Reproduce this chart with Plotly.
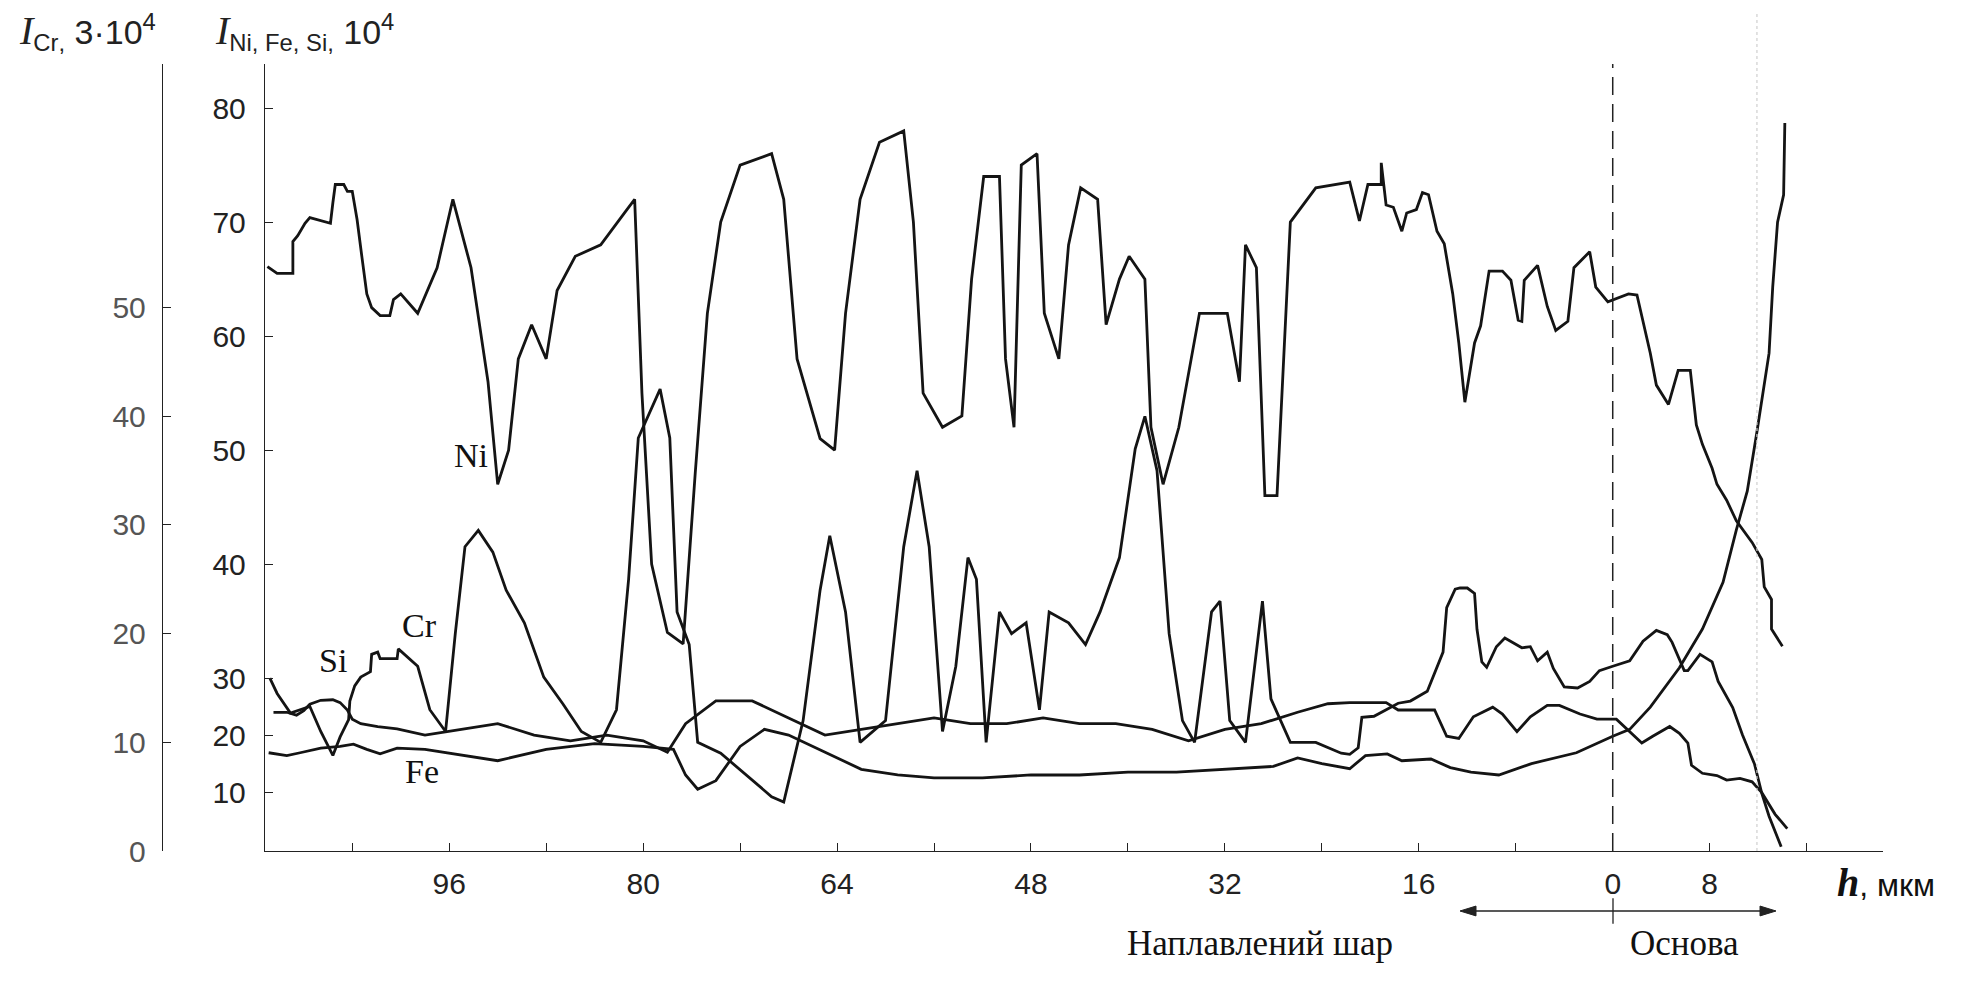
import plotly.graph_objects as go

W, H = 1983, 984

# Depth h, µm (positive into the deposited layer, negative into the base)
# and intensities. Ni/Fe/Si share one axis (10^4), Cr its own (3·10^4).
ni_h = [111.0, 110.2, 108.9, 108.9, 108.5, 107.9, 107.5, 105.8, 105.6, 105.4, 104.7, 104.4, 104.0,
        103.6, 103.2, 102.8, 102.4, 101.7, 100.9, 100.6, 100.0,
        98.6, 97.0, 95.7, 94.2, 92.8, 92.0, 91.1, 90.3, 89.2, 88.0, 87.1, 85.6, 83.5, 81.4, 80.7,
        80.1, 79.3, 78.0, 76.7, 75.7, 74.7, 73.6, 72.0, 69.4, 68.4, 67.3, 65.4, 64.2, 63.3, 62.1,
        60.5, 58.5, 57.7, 56.9, 55.3, 53.7, 52.9, 51.9, 50.6, 50.1, 49.4, 48.8, 47.5, 46.9, 45.7,
        44.9, 43.9, 42.5, 41.8, 40.7, 39.9, 38.6, 38.1, 37.1, 35.8, 34.1, 31.8, 30.8, 30.3, 29.4,
        28.7, 27.7, 26.6, 24.5,
        21.7, 20.9, 20.2, 19.1, 19.1, 18.7, 18.1, 17.4, 17.0, 16.2, 15.7, 15.2, 14.5, 13.9, 13.2,
        12.7, 12.2, 11.4, 10.9, 10.2, 9.1, 8.4, 7.8, 7.5, 7.3, 6.2, 5.4, 4.7, 3.7, 3.2, 1.9, 1.4,
        0.4, -1.3, -2.0, -3.1, -3.6, -4.6, -5.4, -6.4, -6.9, -7.4, -8.2, -8.6, -9.4, -10.2, -11.5,
        -12.3, -12.5, -13.1, -13.1, -14.0]
ni_i = [66.1, 65.5, 65.5, 68.3, 68.8, 69.9, 70.4, 69.9, 71.7, 73.3, 73.3, 72.7, 72.7,
        70.2, 66.9, 63.7, 62.5, 61.8, 61.8, 63.2, 63.7,
        62, 66, 72, 66, 56, 47, 50, 58, 61, 58, 64, 67, 68, 71, 72,
        55, 40, 34, 33, 48, 62, 70, 75, 76, 72, 58, 51, 50, 62, 72,
        77, 78, 70, 55, 52, 53, 65, 74, 74, 58, 52, 75, 76, 62, 58,
        68, 73, 72, 61, 65, 67, 65, 52, 47, 52, 62, 62, 56, 68, 66,
        46, 46, 70, 73,
        73.5, 70.1, 73.3, 73.3, 75.2, 71.5, 71.3, 69.2, 70.8, 71.1, 72.6, 72.4, 69.2, 68.1, 63.7,
        59.4, 54.2, 59.4, 60.9, 65.7, 65.7, 64.9, 61.4, 61.3, 64.9, 66.2, 62.6, 60.5, 61.3, 66.0, 67.4, 64.3,
        63.0, 63.7, 63.6, 58.5, 55.7, 54.0, 57.0, 57.0, 52.2, 50.5, 48.4, 47.0, 45.6, 43.8, 41.9,
        40.4, 38.0, 36.9, 34.3, 32.8]

fe_h = [110.9, 109.4, 108.3, 106.6, 105.0, 103.9, 102.8, 101.7, 100.3,
        98, 92, 88, 84, 80, 77.5, 76.5, 75.5, 74, 72, 70, 68, 65, 62, 59, 56, 52, 48, 44, 40,
        36, 32, 28, 26, 24,
        21.7, 20.4, 18.6, 17.4, 15.0, 13.4, 11.7, 9.4, 6.7, 3.0, 0.0, -1.4, -3.1, -5.5, -7.4,
        -9.1, -10.2, -11.1, -11.9, -12.9, -13.2, -13.6, -14.1, -14.2]
fe_i = [16.9, 16.4, 16.9, 17.7, 18.0, 18.4, 17.5, 16.7, 17.7,
        17.5, 15.5, 17.5, 18.5, 18.0, 17.5, 13, 10.5, 12, 18, 21, 20, 17, 14, 13, 12.5, 12.5, 13, 13, 13.5,
        13.5, 14, 14.5, 16, 15,
        14.1, 16.4, 16.7, 15.5, 15.8, 14.3, 13.5, 13.0, 15.0, 16.9, 19.8, 21.0, 24.9, 30.9, 34.3,
        38.4, 43.0, 46.4, 51.6, 58.5, 64.3, 70.0, 72.4, 78.7]

si_h = [110.5, 109.4, 108.6, 108.0, 107.5, 106.6, 105.6, 105.0, 104.4, 104.0, 103.3, 101.9, 100.3,
        98, 95, 92, 89, 86, 83, 80, 78, 76.5, 74, 71, 68, 65, 62, 59, 56, 53, 50, 47, 44, 41,
        38, 35, 32, 29, 26, 23.5,
        21.7, 18.7, 17.7, 14.7, 13.7, 12.7, 11.5, 9.9, 9.1, 7.9, 6.8, 5.4, 4.4, 2.7, 1.3, -0.3,
        -1.2, -2.4, -3.3, -4.7, -5.5, -6.2, -6.5, -7.4, -8.6, -9.4, -10.5, -11.5, -12.3, -13.4, -14.4]
si_i = [24.0, 24.0, 23.5, 24.3, 25.4, 26.1, 26.2, 25.7, 24.4, 22.8, 22.0, 21.5, 21.1,
        20, 21, 22, 20, 19, 20, 19, 17, 22, 26, 26, 23, 20, 21, 22, 23, 22, 22, 23, 22, 22,
        21, 19, 21, 22, 24, 25.5,
        25.7, 25.7, 24.4, 24.4, 19.8, 19.4, 23.2, 24.9, 23.7, 20.6, 23.2, 25.2, 25.2, 23.7, 22.8, 22.8,
        21.0, 18.6, 19.8, 21.5, 20.3, 18.6, 14.7, 13.3, 12.9, 12.1, 12.4, 11.8, 9.9, 6.1, 3.6]

cr_h = [110.8, 110.2, 109.1, 108.5, 107.5, 106.6, 105.6, 105.0, 104.3, 104.2, 103.8, 103.3, 102.5,
        102.4, 101.9, 101.7, 100.3, 100.2,
        98.6, 97.6, 96.3, 95.5, 94.7, 93.6, 92.4, 91.3, 89.8, 88.2, 86.6, 85.1, 83.5, 82.2, 81.2,
        80.4, 78.6, 77.8, 77.2, 76.2, 75.5, 73.6, 71.5, 69.4, 68.4, 66.8, 65.4, 64.6, 63.3, 62.1,
        60.0, 58.5, 57.4, 56.4, 55.3, 54.2, 53.2, 52.5, 51.7, 50.6, 49.6, 48.4, 47.3, 46.5, 44.9,
        43.5, 42.3, 40.7, 39.4, 38.6, 37.6, 36.6, 35.5, 34.5, 33.1, 32.4, 31.6, 30.3, 28.9, 28.2,
        26.6, 24.5, 22.4,
        21.7, 21.0, 20.7, 19.7, 17.7, 16.7, 15.3, 14.0, 13.7, 13.0, 12.6, 12.0, 11.4, 11.2, 10.8,
        10.4, 9.6, 8.9, 7.5, 6.8, 6.2, 5.4, 4.9, 4.0, 2.9, 1.9, 1.1, 0.0, -1.4, -2.5, -3.6, -4.5,
        -4.9, -5.9, -6.2, -7.2, -8.2, -8.7, -9.9, -10.7, -11.7, -12.3, -12.9, -13.9]
cr_i = [15.9, 14.5, 12.7, 12.9, 13.3, 11.0, 8.8, 10.5, 12.1, 13.8, 15.2, 16.0, 16.5,
        18.1, 18.3, 17.7, 17.7, 18.6,
        17, 13, 11, 20, 28, 29.5, 27.5, 24, 21, 16, 13.5, 11, 10, 13, 25,
        38, 42.5, 38, 22, 19, 10, 9, 7, 5, 4.5, 12, 24, 29, 22, 10,
        12, 28, 35, 28, 11, 17, 27, 25, 10, 22, 20, 21, 13, 22, 21,
        19, 22, 27, 37, 40, 35, 20, 12, 10, 22, 23, 12, 10, 23, 14,
        10, 10, 9,
        8.9, 9.5, 12.3, 12.4, 13.6, 13.8, 14.7, 18.3, 22.4, 24.1, 24.2, 24.2, 23.7, 20.4, 17.4,
        16.9, 18.8, 19.6, 18.7, 18.8, 17.5, 18.3, 16.8, 15.1, 15.0, 15.6, 16.6, 17.0, 17.5, 19.3, 20.3, 19.9,
        19.2, 16.6, 16.6, 18.1, 17.4, 15.6, 13.2, 10.7, 8.0, 5.3, 3.2, 0.4]

# x ticks every 8 µm; right of the interface the depth is labelled by its size
x_major = [96, 80, 64, 48, 32, 16, 0, -8]
x_major_labels = ["96", "80", "64", "48", "32", "16", "0", "8"]
x_minor = [104, 88, 72, 56, 40, 24, 8, -16]

# Ni/Fe/Si axis: 0-30 is drawn at half the scale of 30-80
nfs_values = [10, 20, 30, 40, 50, 60, 70, 80]
cr_values = [0, 10, 20, 30, 40, 50]

curve_labels = [("Ni", 452, 463), ("Cr", 400, 636), ("Si", 317, 693), ("Fe", 403, 806)]


def nfs_pos(v):
    return v if v >= 30 else 15 + v / 2.0


# frame in page pixels
X0, X1, YB, YT = 265, 1883, 866, 65
CR_X = 162
NFS_PX = 11.6           # px per unit above 30
CR_PX = 11.06           # px per unit on the Cr axis
nfs_range = [30 - (YB - 690) / NFS_PX, 80 + (110 - YT) / NFS_PX]
cr_range = [0, (YB - YT) / CR_PX]


def fx(x):
    return x / W


def fy(y):
    return 1 - y / H


INK = "#141414"
LW = 2.8
fig = go.Figure()
fig.add_trace(go.Scatter(x=cr_h, y=cr_i, yaxis="y", mode="lines",
                         line=dict(color=INK, width=LW), hoverinfo="skip", showlegend=False))
for hh, vv in ((ni_h, ni_i), (fe_h, fe_i), (si_h, si_i)):
    fig.add_trace(go.Scatter(x=hh, y=[nfs_pos(v) for v in vv], yaxis="y2", mode="lines",
                             line=dict(color=INK, width=LW), hoverinfo="skip", showlegend=False))

axis_common = dict(showgrid=False, zeroline=False, showline=True, linecolor="#222", linewidth=1.4,
                   ticks="inside", ticklen=8, tickwidth=1.2, tickcolor="#222")

fig.update_layout(
    width=W, height=H, margin=dict(l=0, r=0, t=0, b=0),
    paper_bgcolor="white", plot_bgcolor="white",
    xaxis=dict(domain=[fx(X0), fx(X1)], range=[111.2, -22.3], anchor="y2",
               tickvals=x_major, ticktext=x_major_labels, ticklabelstandoff=6,
               minor=dict(tickvals=x_minor, ticks="inside", ticklen=8, tickwidth=1.2, tickcolor="#222",
                          showgrid=False),
               tickfont=dict(family="Liberation Sans", size=30, color="#222"), **axis_common),
    yaxis=dict(domain=[fy(YB), fy(YT)], range=cr_range, anchor="free", position=fx(CR_X), side="left",
               tickvals=cr_values, ticktext=[str(v) for v in cr_values], ticklabelstandoff=10,
               tickfont=dict(family="Liberation Sans", size=30, color="#555"), **axis_common),
    yaxis2=dict(range=nfs_range, overlaying="y", anchor="x", side="left",
                tickvals=[nfs_pos(v) for v in nfs_values], ticktext=[str(v) for v in nfs_values],
                ticklabelstandoff=12,
                tickfont=dict(family="Liberation Sans", size=30, color="#222"), **axis_common),
    showlegend=False,
)

# interface h = 0 (dashed) and a faint dotted guide in the base
fig.add_shape(type="line", xref="x", yref="paper", x0=0, x1=0, y0=fy(YB), y1=fy(YT),
              line=dict(color="#222", width=1.5, dash="18px,9px"))
fig.add_shape(type="line", xref="x", yref="paper", x0=-11.9, x1=-11.9, y0=fy(YB), y1=fy(13),
              line=dict(color="#cfcfcf", width=1.2, dash="dot"))

# axis titles
fig.add_annotation(xref="paper", yref="paper", x=fx(17), y=fy(33), xanchor="left", yanchor="middle",
                   showarrow=False, font=dict(family="Liberation Sans", size=34, color="#222"),
                   text='<span style="font-family:Liberation Serif;font-size:40px"><i>I</i></span>'
                        '<sub>Cr</sub><sub>,</sub> 3·10<sup>4</sup>')
fig.add_annotation(xref="paper", yref="paper", x=fx(213), y=fy(33), xanchor="left", yanchor="middle",
                   showarrow=False, font=dict(family="Liberation Sans", size=34, color="#222"),
                   text='<span style="font-family:Liberation Serif;font-size:40px"><i>I</i></span>'
                        '<sub>Ni, Fe, Si</sub><sub>,</sub> 10<sup>4</sup>')
fig.add_annotation(xref="paper", yref="paper", x=fx(1835), y=fy(898), xanchor="left", yanchor="middle",
                   showarrow=False, font=dict(family="Liberation Sans", size=32, color="#111"),
                   text='<span style="font-family:Liberation Serif;font-size:40px"><b><i>h</i></b></span>, мкм')

# curve names
for name, xp, yp in curve_labels:
    fig.add_annotation(xref="paper", yref="paper", x=fx(xp), y=fy(yp), showarrow=False,
                       font=dict(family="Liberation Serif", size=34, color="#111"), text=name)

# regions under the axis: double arrow split at the interface
ARROW_Y = 927
MID, LEFT_TIP, RIGHT_TIP = 1613, 1460, 1776
fig.add_shape(type="line", xref="paper", yref="paper", x0=fx(LEFT_TIP + 6), x1=fx(RIGHT_TIP - 6),
              y0=fy(ARROW_Y), y1=fy(ARROW_Y), line=dict(color="#222", width=1.5))
fig.add_shape(type="line", xref="paper", yref="paper", x0=fx(MID), x1=fx(MID), y0=fy(914), y1=fy(940),
              line=dict(color="#222", width=1.3))
for tip, back in ((LEFT_TIP, LEFT_TIP + 16), (RIGHT_TIP, RIGHT_TIP - 16)):
    fig.add_shape(type="path", xref="paper", yref="paper",
                  path=f"M {fx(tip)},{fy(ARROW_Y)} L {fx(back)},{fy(ARROW_Y - 5)} "
                       f"L {fx(back)},{fy(ARROW_Y + 5)} Z",
                  fillcolor="#222", line=dict(color="#222", width=1))
fig.add_annotation(xref="paper", yref="paper", x=fx(1395), y=fy(960), showarrow=False, yanchor="middle",
                   font=dict(family="Liberation Serif", size=35, color="#111"), text="Наплавлений шар")
fig.add_annotation(xref="paper", yref="paper", x=fx(1741), y=fy(960), showarrow=False, yanchor="middle",
                   font=dict(family="Liberation Serif", size=35, color="#111"), text="Основа")

fig.write_html("out.html")
